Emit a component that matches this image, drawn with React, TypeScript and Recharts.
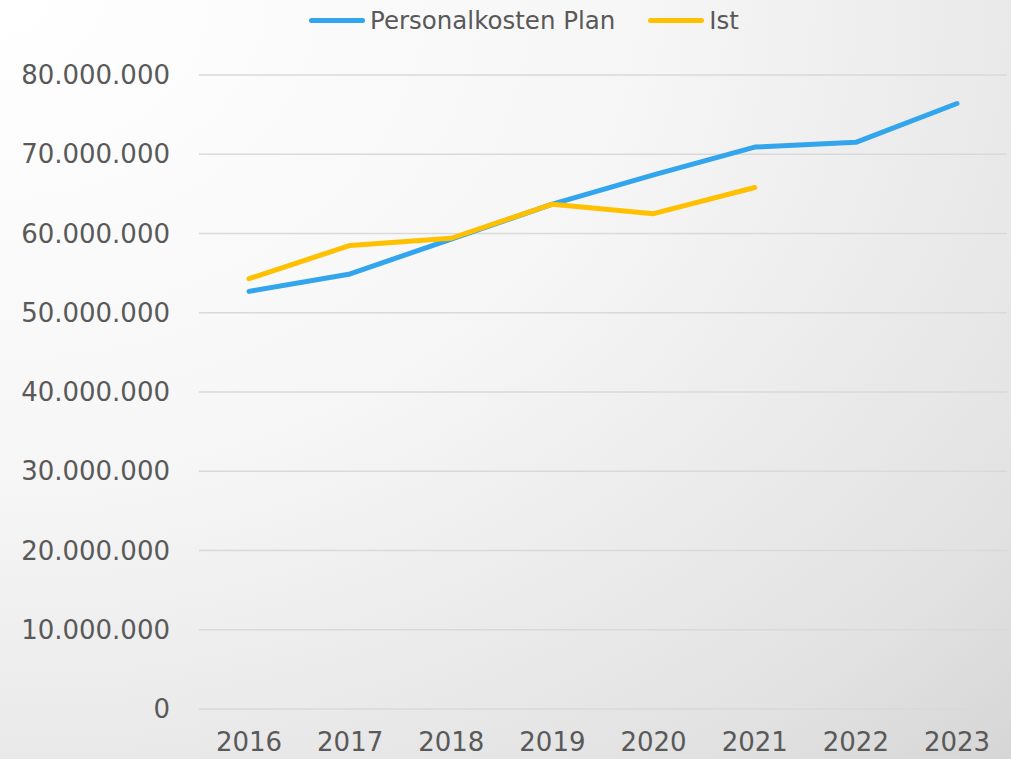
import React from 'react';
import { LineChart, Line, XAxis, YAxis, CartesianGrid, Legend } from 'recharts';

// Jahre und Werte
const YEARS = ['2016', '2017', '2018', '2019', '2020', '2021', '2022', '2023'];
const PLAN = [52700000, 54900000, 59300000, 63700000, 67400000, 70900000, 71500000, 76400000];
const IST = [54300000, 58500000, 59400000, 63700000, 62500000, 65800000, null, null];
const Y_TICKS = [0, 10000000, 20000000, 30000000, 40000000, 50000000, 60000000, 70000000, 80000000];
const SERIES_ORDER = ['plan', 'ist'];

const BLUE = '#33a5ec';
const YELLOW = '#ffc000';
const TEXT = '#595959';
const FONT = '"DejaVu Sans", sans-serif';

const data = YEARS.map((year, i) => ({ year, plan: PLAN[i], ist: IST[i] }));

const formatDE = (v: number) => String(v).replace(/\B(?=(\d{3})+(?!\d))/g, '.');

const LegendContent = (props: any) => {
  // keep series order (recharts sorts the legend by name otherwise)
  const items = [...(props.payload || [])].sort(
    (a: any, b: any) => SERIES_ORDER.indexOf(a.dataKey) - SERIES_ORDER.indexOf(b.dataKey)
  );
  return (
    <div style={{ display: 'flex', alignItems: 'center', height: 40, paddingLeft: 309, fontFamily: FONT, fontSize: 24.5, color: TEXT }}>
      {items.map((item: any, i: number) => (
        <div key={`leg-${i}`} style={{ display: 'flex', alignItems: 'center', marginRight: 33 }}>
          <span style={{ display: 'inline-block', width: 56, height: 5, borderRadius: 3, background: item.color, marginRight: 5 }} />
          <span>{item.value}</span>
        </div>
      ))}
    </div>
  );
};

export default function App() {
  return (
    <div
      style={{
        position: 'absolute',
        left: 0,
        top: 0,
        width: 1011,
        height: 759,
        background: 'radial-gradient(ellipse at 0% 0%, #ffffff 0%, #f6f6f6 45%, #e2e2e2 85%, #d6d6d6 100%)',
      }}
    >
      <LineChart width={1011} height={759} data={data} margin={{ top: 35, right: 4, bottom: 0, left: 0 }}>
        <CartesianGrid vertical={false} stroke="#d9d9d9" strokeWidth={1.5} />
        <XAxis
          dataKey="year"
          axisLine={false}
          tickLine={false}
          tickSize={0}
          tickMargin={24}
          height={50}
          padding={{ left: 50, right: 50 }}
          tick={{ fill: TEXT, fontSize: 26, fontFamily: FONT }}
        />
        <YAxis
          width={199}
          domain={[0, 80000000]}
          ticks={Y_TICKS}
          axisLine={false}
          tickLine={false}
          tickSize={0}
          tickMargin={29}
          tickFormatter={formatDE}
          tick={{ fill: TEXT, fontSize: 26, fontFamily: FONT }}
        />
        <Legend verticalAlign="top" align="left" content={<LegendContent />} wrapperStyle={{ top: 0, left: 0, width: 1011 }} />
        <Line
          type="linear"
          dataKey="plan"
          name="Personalkosten Plan"
          stroke={BLUE}
          strokeWidth={5}
          strokeLinecap="round"
          strokeLinejoin="round"
          dot={false}
          activeDot={false}
          isAnimationActive={false}
        />
        <Line
          type="linear"
          dataKey="ist"
          name="Ist"
          stroke={YELLOW}
          strokeWidth={5}
          strokeLinecap="round"
          strokeLinejoin="round"
          dot={false}
          activeDot={false}
          isAnimationActive={false}
        />
      </LineChart>
    </div>
  );
}
